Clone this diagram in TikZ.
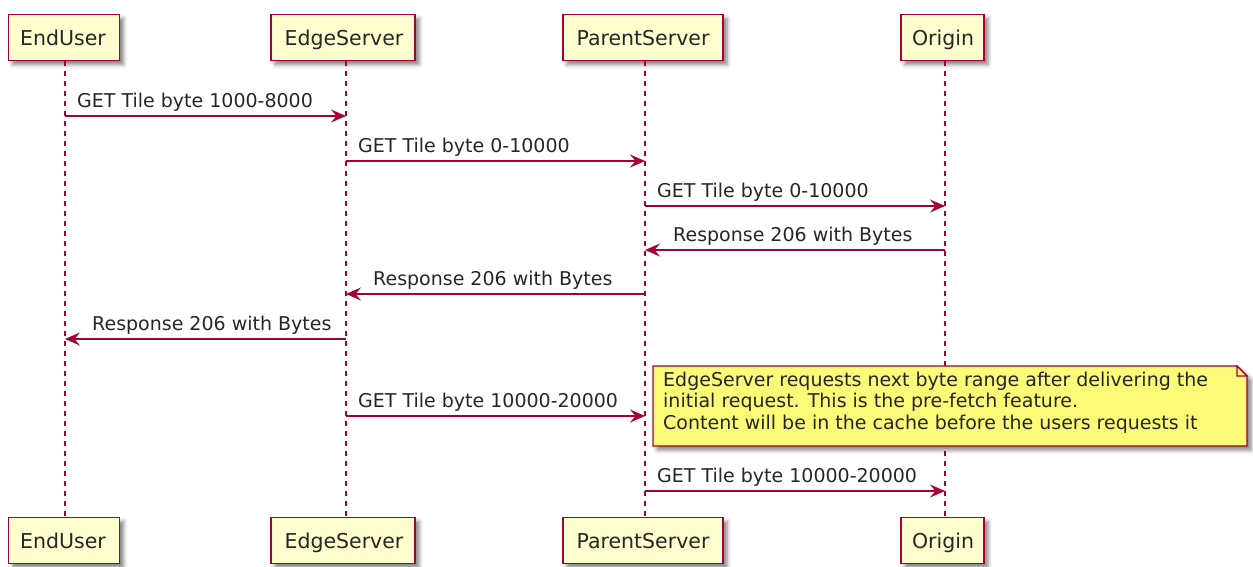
\documentclass[tikz,border=0pt]{standalone}
\usepackage{fontspec}
\setmainfont{DejaVu Sans}
\usetikzlibrary{arrows.meta,shadows.blur}
\definecolor{pborder}{HTML}{A80036}
\definecolor{pfill}{HTML}{FEFECE}
\definecolor{nfill}{HTML}{FBFB77}
\tikzset{
  part/.style={draw=pborder, line width=1.6pt, fill=pfill, minimum height=46pt, inner sep=0pt,
    blur shadow={shadow xshift=4pt, shadow yshift=-4pt, shadow blur radius=4pt, shadow opacity=50}},
  ptext/.style={font=\fontsize{20.5}{24}\selectfont, text=black!85, anchor=base},
  life/.style={draw=pborder, line width=1.1pt, dash pattern=on 5pt off 5pt},
  msg/.style={draw=pborder, line width=1.2pt, -{Stealth[length=15pt,width=13pt,inset=5.5pt]}},
  mlabel/.style={font=\fontsize{19}{22}\selectfont, text=black!85, anchor=base west, inner sep=0pt},
  notebg/.style={draw=pborder, line width=1.2pt, fill=nfill,
    blur shadow={shadow xshift=4pt, shadow yshift=-4pt, shadow blur radius=4pt, shadow opacity=50}},
}
\begin{document}
\begin{tikzpicture}[x=1pt,y=-1pt]
\useasboundingbox (0,0) rectangle (1253,566);
% participants top
\node[part, minimum width=111pt] (eu) at (64,37.5) {};
\node[part, minimum width=144pt] (es) at (343,37.5) {};
\node[part, minimum width=160pt] (ps) at (643,37.5) {};
\node[part, minimum width=83pt] (or) at (942.5,37.5) {};
% participants bottom
\node[part, minimum width=111pt] (eub) at (64,540.5) {};
\node[part, minimum width=144pt] (esb) at (343,540.5) {};
\node[part, minimum width=160pt] (psb) at (643,540.5) {};
\node[part, minimum width=83pt] (orb) at (942.5,540.5) {};
% lifeline coordinates
\coordinate (euT) at (65,61); \coordinate (euB) at (65,518);
\coordinate (esT) at (346,61); \coordinate (esB) at (346,518);
\coordinate (psT) at (645,61); \coordinate (psB) at (645,518);
\coordinate (orT) at (945,61); \coordinate (orB) at (945,518);
\draw[life] (euT) -- (euB);
\draw[life] (esT) -- (esB);
\draw[life] (psT) -- (psB);
\draw[life] (orT) -- (orB);
% participant labels
\node[ptext] (euL) at (63,45) {EndUser};
\node[ptext] (esL) at (344,45) {EdgeServer};
\node[ptext] (psL) at (643,45) {ParentServer};
\node[ptext] (orL) at (943,45) {Origin};
\node[ptext] (eubL) at (63,548) {EndUser};
\node[ptext] (esbL) at (344,548) {EdgeServer};
\node[ptext] (psbL) at (643,548) {ParentServer};
\node[ptext] (orbL) at (943,548) {Origin};
% message end points
\coordinate (m1a) at (65,116);  \coordinate (m1b) at (346,116);
\coordinate (m2a) at (346,161); \coordinate (m2b) at (645,161);
\coordinate (m3a) at (645,206); \coordinate (m3b) at (945,206);
\coordinate (m4a) at (945,250); \coordinate (m4b) at (645,250);
\coordinate (m5a) at (645,294); \coordinate (m5b) at (346,294);
\coordinate (m6a) at (346,339); \coordinate (m6b) at (65,339);
\coordinate (m7a) at (346,416); \coordinate (m7b) at (645,416);
\coordinate (m8a) at (645,491); \coordinate (m8b) at (945,491);
\draw[msg] (m1a) -- (m1b);
\draw[msg] (m2a) -- (m2b);
\draw[msg] (m3a) -- (m3b);
\draw[msg] (m4a) -- (m4b);
\draw[msg] (m5a) -- (m5b);
\draw[msg] (m6a) -- (m6b);
\draw[msg] (m7a) -- (m7b);
\draw[msg] (m8a) -- (m8b);
\node[mlabel] (l1) at (77,107) {GET Tile byte 1000-8000};
\node[mlabel] (l2) at (358,152) {GET Tile byte 0-10000};
\node[mlabel] (l3) at (657,197) {GET Tile byte 0-10000};
\node[mlabel] (l4) at (673,241) {Response 206 with Bytes};
\node[mlabel] (l5) at (373,285) {Response 206 with Bytes};
\node[mlabel] (l6) at (92,330) {Response 206 with Bytes};
\node[mlabel] (l7) at (358,407) {GET Tile byte 10000-20000};
\node[mlabel] (l8) at (657,482) {GET Tile byte 10000-20000};
% note
\path[notebg] (653,366) -- (1237,366) -- (1247,376) -- (1247,446) -- (653,446) -- cycle;
\draw[pborder, line width=1.2pt, fill=nfill] (1237,366) -- (1237,376) -- (1247,376) -- cycle;
\node[font=\fontsize{19}{21.5}\selectfont, text=black!85, align=left, inner sep=0pt, anchor=base west] (note) at (663,429)
  {EdgeServer requests next byte range after delivering the\\initial request. This is the pre-fetch feature.\\Content will be in the cache before the users requests it};
\end{tikzpicture}
\end{document}
